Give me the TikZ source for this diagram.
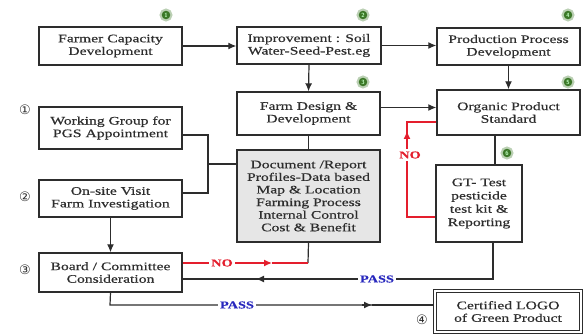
\documentclass[tikz,border=0pt]{standalone}
\usepackage{fontspec}
\setmainfont{Liberation Serif}[FakeStretch=1.36, FakeBold=0.5]
\newfontfamily\circfont{DejaVu Sans}
\usetikzlibrary{arrows.meta}
\definecolor{ink}{RGB}{45,45,45}
\definecolor{nored}{RGB}{228,30,45}
\definecolor{passblue}{RGB}{40,40,190}
\definecolor{docgray}{RGB}{230,230,230}
\definecolor{badge}{RGB}{60,120,40}
\tikzset{
  box/.style={draw=ink, line width=1.4pt, rectangle, align=center, text=ink,
    font=\fontsize{11.5}{12.6}\selectfont, inner sep=0pt},
  wire/.style={draw=ink, line width=1.2pt},
  redwire/.style={draw=nored, line width=1.2pt},
  tip/.style={-{Latex[length=8pt,width=7pt]}},
  lbl/.style={font=\bfseries\fontsize{10.5}{11}\selectfont, fill=white, inner sep=2pt},
  badgedot/.style={circle, fill=badge, draw=badge!35, line width=2pt, minimum size=11pt,
    inner sep=0pt, text=green!25, font=\sffamily\bfseries\fontsize{6}{6}\selectfont},
  circnum/.style={font=\circfont\fontsize{13}{13}\selectfont, text=ink, inner sep=0pt}
}
\begin{document}
\begin{tikzpicture}[x=1pt,y=-1pt]
\useasboundingbox (0,0) rectangle (584,334);

% process boxes
\node[box, minimum width=143pt, minimum height=38pt] (farmer) at (110.5,46) {Farmer Capacity\\Development};
\node[box, minimum width=144pt, minimum height=37pt] (improve) at (309,45.5) {Improvement : Soil\\Water-Seed-Pest.eg};
\node[box, minimum width=143pt, minimum height=37pt] (prod) at (508.5,46.5) {Production Process\\Development};
\node[box, minimum width=143pt, minimum height=43pt] (farm) at (308.5,113.5) {Farm Design \&\\Development};
\node[box, minimum width=143pt, minimum height=45pt] (organic) at (508.5,112.5) {Organic Product\\Standard};
\node[box, minimum width=143pt, minimum height=42pt] (working) at (110.5,128) {Working Group for\\PGS Appointment};
\node[box, minimum width=143pt, minimum height=37pt] (onsite) at (110.5,198.5) {On-site Visit\\Farm Investigation};
\node[box, fill=docgray, minimum width=143pt, minimum height=92pt] (doc) at (308.5,196)
  {Document /Report\\Profiles-Data based\\Map \& Location\\Farming Process\\Internal Control\\Cost \& Benefit};
\node[box, minimum width=86pt, minimum height=77pt, font=\fontsize{11.5}{13.3}\selectfont] (gt) at (479,203.5)
  {GT- Test\\pesticide\\test kit \&\\Reporting};
\node[box, minimum width=143pt, minimum height=39pt] (board) at (110.5,272.5) {Board / Committee\\Consideration};
\node[box, double=white, double distance=1.6pt, line width=1.4pt, minimum width=146pt, minimum height=41pt]
  (cert) at (508,311.5) {Certified LOGO\\of Green Product};

% step badges
\node[badgedot] (b1) at (166,15) {1};
\node[badgedot] (b2) at (363,15) {2};
\node[badgedot] (b4) at (568,15) {4};
\node[badgedot] (b3) at (363,82) {3};
\node[badgedot] (b5) at (568,82) {5};
\node[badgedot] (b6) at (507,153) {6};

% circled stage numbers
\node[circnum] (c1) at (25,110) {①};
\node[circnum] (c2) at (25,197) {②};
\node[circnum] (c3) at (25,270) {③};
\node[circnum] (c4) at (422,320) {④};

% main flow
\draw[wire, tip] (farmer.east) -- (farmer.east -| improve.west);
\draw[wire, tip] (improve.east) -- (improve.east -| prod.west);
\draw[wire, tip] (improve.south) -- (farm.north);
\draw[wire, tip] (prod.south) -- (organic.north);
\draw[wire, tip] ([yshift=6pt]farm.east) -- ([yshift=6pt]farm.east -| organic.west);
\draw[wire] (farm.south) -- (doc.north);
\draw[wire] ([xshift=-13.5pt]organic.south) -- ([xshift=-13.5pt]organic.south |- gt.north);

% working group and site visit feed the documents
\coordinate (wj) at (208,164);
\draw[wire] ([yshift=-7pt]working.east) -| (wj);
\draw[wire] ([yshift=5.5pt]onsite.east) -| (wj);
\draw[wire] (wj) -- (wj -| doc.west);
\draw[wire, tip] (onsite.south) -- (board.north);

% board rejects: back to the documents
\coordinate (nojoin) at (308,263);
\coordinate (nomid) at (272,263);
\draw[wire] (doc.south) -- (nojoin);
\draw[redwire, tip] ([yshift=9.5pt]board.east) -- (nomid);
\draw[redwire] (nomid) -- (nojoin);
\node[lbl, text=nored] (no1) at (222,263) {NO};

% test passes: back to the board
\coordinate (gtdown) at (493,279);
\coordinate (passmid) at (262,279);
\draw[wire] ([xshift=14pt]gt.south) -- (gtdown) -- (gtdown -| passmid);
\draw[wire, tip] (gtdown -| passmid) -- ([xshift=-6pt]passmid);
\draw[wire] (passmid) -- ([yshift=-6.5pt]board.east);
\node[lbl, text=passblue] (pass1) at (377,279) {PASS};

% test fails: back to the standard
\coordinate (loopbl) at (407,217);
\coordinate (looptl) at (407,122);
\coordinate (loopmid) at (407,131);
\draw[redwire] ([yshift=-13.5pt]gt.west) -- (loopbl) -- (loopmid);
\draw[redwire] (loopmid) -- (looptl) -- (looptl -| organic.west);
\draw[redwire, tip] (407,140) -- (loopmid);
\node[lbl, text=nored] (no2) at (410,155) {NO};

% board passes: certification
\coordinate (certdown) at (110,305);
\coordinate (certmid) at (372,305);
\draw[wire] (board.south) -- (certdown) -- (certmid);
\draw[wire, tip] ([xshift=-10pt]certmid) -- (certmid);
\draw[wire] (certmid) -- (certmid -| cert.west);
\node[lbl, text=passblue] (pass2) at (237,305) {PASS};
\end{tikzpicture}
\end{document}
